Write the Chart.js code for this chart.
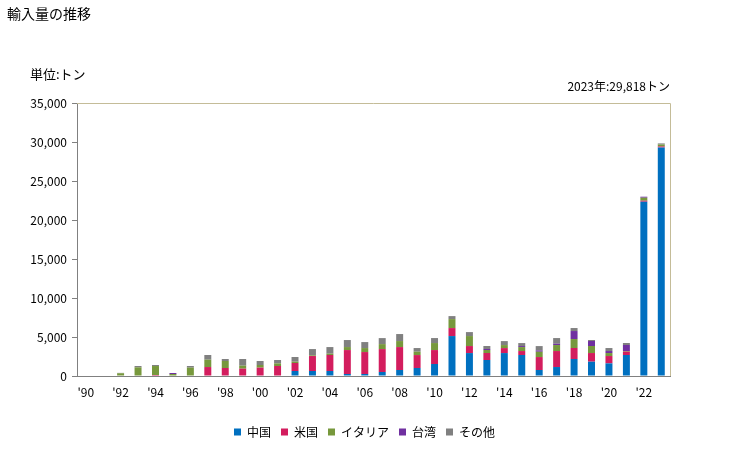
<!DOCTYPE html>
<html>
<head>
<meta charset="utf-8">
<script src="https://cdn.jsdelivr.net/npm/chart.js@4"></script>
<style>
  body { margin: 0; background: #fff; font-family: "Noto Sans CJK JP", sans-serif; }
  #wrap { position: relative; width: 729px; height: 450px; }
  .txt { position: absolute; color: #000; white-space: nowrap; }
</style>
</head>
<body>
<div id="wrap">
  <canvas id="chart" width="729" height="450"></canvas>
  <div class="txt" style="left:7px; top:3px; font-size:14px;">輸入量の推移</div>
  <div class="txt" style="left:30px; top:64px; font-size:13px;">単位:トン</div>
  <div class="txt" style="right:59px; top:77px; font-size:12px;">2023年:29,818トン</div>
</div>
<script>
// categories: 1990 .. 2023
var years = ["'90","'91","'92","'93","'94","'95","'96","'97","'98","'99",
             "'00","'01","'02","'03","'04","'05","'06","'07","'08","'09",
             "'10","'11","'12","'13","'14","'15","'16","'17","'18","'19",
             "'20","'21","'22","'23"];

// tonnes per year
var china  = [0,0,0,0,0,0,0,0,0,0, 0,0,640,640,640,256,256,510,770,1025,
              1535,5120,2940,2050,2940,2690,770,1150,2180,1835, 1620,2690,22345,29300];
var usa    = [0,0,0,0,128,0,0,1150,1025,940, 1070,1280,1025,1920,2050,3070,2815,2940,2940,1660,
              1790,1025,900,900,640,510,1660,2050,1410,1110, 940,430,128,130];
var italy  = [0,0,350,1110,1150,256,1070,940,900,385, 340,340,170,85,170,385,510,640,770,430,
              900,1150,1280,385,385,510,680,770,1150,900, 385,85,385,250];
var taiwan = [0,0,0,0,0,128,0,0,0,0, 0,0,0,0,0,0,0,0,0,0,
              0,0,0,128,0,128,170,170,1025,640, 256,770,128,0];
var other  = [0,0,50,170,130,0,210,600,256,855, 510,430,600,810,850,900,770,770,900,470,
              640,385,510,385,510,385,555,725,385,128, 385,256,0,138];

// tan frame on top and right of the plot area
var frame = {
  id: 'frame',
  afterDraw: function(chart) {
    var a = chart.chartArea, c = chart.ctx;
    c.save();
    c.strokeStyle = '#c4bc98';
    c.lineWidth = 1;
    c.beginPath();
    c.moveTo(a.left, a.top + 0.5);
    c.lineTo(a.right + 0.5, a.top + 0.5);
    c.lineTo(a.right + 0.5, a.bottom);
    c.stroke();
    c.restore();
  }
};

// center the legend on the whole canvas, not on the padded box
var legendShift = {
  id: 'legendShift',
  afterLayout: function(chart) {
    var lg = chart.legend;
    if (!lg) return;
    var dx = (chart.width - (lg.left + lg.right)) / 2;
    lg.left += dx;
    lg.right += dx;
  }
};

Chart.defaults.font.family = '"Noto Sans CJK JP", sans-serif';
Chart.defaults.font.size = 12;
Chart.defaults.color = '#000';

new Chart(document.getElementById('chart').getContext('2d'), {
  type: 'bar',
  data: {
    labels: years,
    datasets: [
      { label: '中国',     data: china,  backgroundColor: '#0070c0' },
      { label: '米国',     data: usa,    backgroundColor: '#d31d5e' },
      { label: 'イタリア', data: italy,  backgroundColor: '#77983c' },
      { label: '台湾',     data: taiwan, backgroundColor: '#7030a0' },
      { label: 'その他',   data: other,  backgroundColor: '#808080' }
    ]
  },
  options: {
    responsive: false,
    animation: false,
    layout: { padding: { top: 103, right: 59, left: 0, bottom: 2 } },
    datasets: { bar: { barPercentage: 0.4, categoryPercentage: 1.0 } },
    scales: {
      x: {
        stacked: true,
        grid: { display: false, drawTicks: false },
        border: { display: true, color: '#808080', width: 1 },
        ticks: {
          padding: 9, maxRotation: 0, autoSkip: false,
          callback: function(v, i) { return i % 2 === 0 ? years[i] : ''; }
        },
        afterFit: function(s) { s.height = 40; }
      },
      y: {
        stacked: true,
        min: 0, max: 35000,
        grid: { drawOnChartArea: false, tickLength: 5, color: '#808080' },
        border: { display: true, color: '#808080', width: 1 },
        ticks: {
          stepSize: 5000, padding: 5,
          callback: function(v) { return v.toLocaleString('en-US'); }
        },
        afterFit: function(s) { s.width = 77; }
      }
    },
    plugins: {
      legend: {
        position: 'bottom',
        labels: { boxWidth: 7, boxHeight: 7, padding: 10 }
      },
      tooltip: { enabled: false }
    }
  },
  plugins: [frame, legendShift]
});
</script>
</body>
</html>
